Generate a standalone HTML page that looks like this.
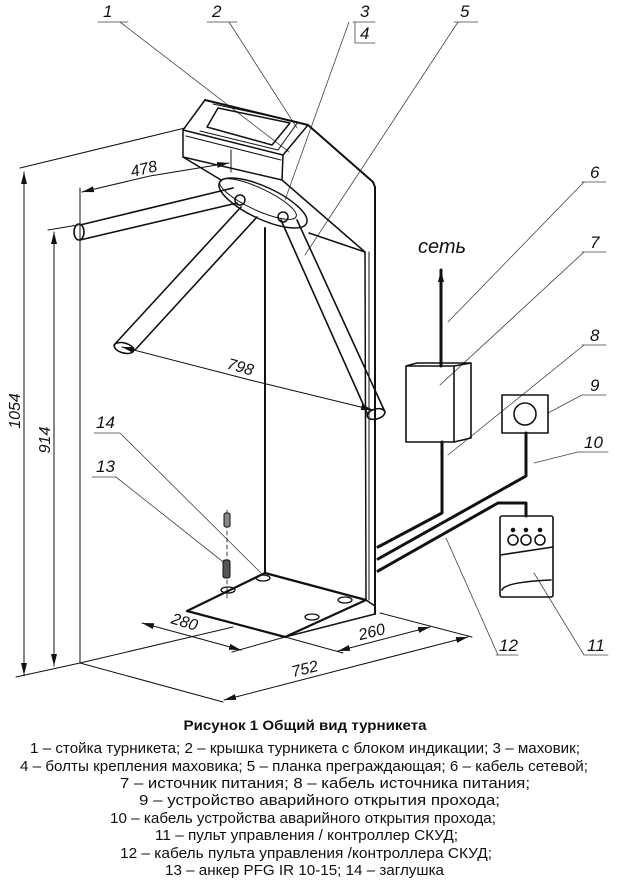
<!DOCTYPE html>
<html><head><meta charset="utf-8"><style>
html,body{margin:0;padding:0;background:#fff;}
svg{display:block;}
text{font-family:"Liberation Sans",sans-serif;fill:#111;}
.n{font-style:italic;font-size:17px;}
.d{font-style:italic;font-size:16px;}
.c{font-size:15px;}
</style></head><body>
<svg width="623" height="889" viewBox="0 0 623 889" xmlns="http://www.w3.org/2000/svg">
<defs>
<marker id="a" viewBox="0 0 12 6" refX="12" refY="3" markerWidth="12" markerHeight="6" orient="auto" markerUnits="userSpaceOnUse"><path d="M0,0 L12,3 L0,6 Z" fill="#111"/></marker>
</defs>
<g fill="none" stroke="#111" stroke-linecap="round" stroke-linejoin="round">
<g stroke-width="0.8" stroke="#444">
<path d="M98,22H128 M120,22 L289,152"/>
<path d="M207,22H237 M229,22 L297,128"/>
<path d="M353,22H375 M349,22 L285,200 M355,22V43H375"/>
<path d="M454,22H478 M458,22 L305,255"/>
<path d="M582,182H606 M584,182 L448,322"/>
<path d="M582,252H606 M584,252 L440,385"/>
<path d="M582,345H606 M584,345 L448,455"/>
<path d="M582,395H606 M582,395 L548,413"/>
<path d="M578,452H608 M578,452 L534,463"/>
<path d="M584,655H608 M584,655 L534,573"/>
<path d="M496,655H518 M498,655 L446,538"/>
<path d="M92,477H116 M116,477 L227,565"/>
<path d="M94,433H120 M120,433 L261,573"/>
</g>
<g stroke-width="1.5">
<path d="M205,100 L308,125 L373,182 L375,187 L375,614" stroke-width="2"/>
<path d="M205,100 L183,130 L283,155 L308,125"/>
<path d="M183,130 L183,157 L282,180 L283,155"/>
<path d="M186,136 L281,160" stroke-width="1"/>
<path d="M218,108 L290,123 L272,145 L207,127 Z"/>
<path d="M213,104 L298,122 L278,150 L200,131" stroke-width="1"/>
<path d="M282,180 L365,252 L366,600"/>
<path d="M183,157 L221,180"/>
<path d="M309,233 L365,252" />
</g>
<g stroke-width="1.5">
<ellipse cx="263" cy="203" rx="48" ry="16" transform="rotate(25 263 203)"/>
<ellipse cx="258" cy="199" rx="42" ry="11" transform="rotate(25 258 199)" stroke-width="1"/>
<circle cx="240" cy="200" r="5"/><circle cx="283" cy="217" r="5"/>
</g>
<path d="M265,228 V573" stroke-width="2"/>
<path d="M369,252 V600" stroke-width="1"/>
<path d="M187,611 L265,573 L366,600 L285,637 Z" stroke-width="2.2"/>
<path d="M285,637 L375,614 M366,600 L375,606" stroke-width="1.5"/>
<g stroke-width="1.3"><ellipse cx="263" cy="578" rx="7" ry="3"/><ellipse cx="228" cy="590" rx="7" ry="3"/><ellipse cx="345" cy="600" rx="7" ry="3"/><ellipse cx="312" cy="617" rx="7" ry="3"/></g>
<path d="M227,510 V600" stroke-width="0.8" stroke-dasharray="4,3"/>
<rect x="224" y="513" width="6" height="14" rx="2" fill="#888"/>
<rect x="223" y="560" width="7" height="18" rx="2" fill="#555"/>
<g stroke-width="1.6">
<path d="M80,225 L233,188 M80,240 L237,203"/>
<ellipse cx="79" cy="232" rx="5" ry="8"/>
<path d="M241,207 L114,345 M257,217 L135,350"/>
<ellipse cx="124" cy="348" rx="10" ry="5" transform="rotate(15 124 348)"/>
<path d="M281,220 L367,413 M297,220 L385,412"/>
<ellipse cx="376" cy="414" rx="9" ry="5" transform="rotate(-15 376 414)"/>
</g>
<g stroke-width="1">
<path d="M20,168 L185,128 M48,230 L78,225 M80,188 V663 M16,677 L80,663 L223,702 M80,663 L233,627"/>
<path d="M24,676 V172" marker-end="url(#a)"/><path d="M24,200 V675" marker-end="url(#a)"/>
<path d="M54,666 V232" marker-end="url(#a)"/><path d="M54,300 V666" marker-end="url(#a)"/>
<path d="M231,150 V172"/>
<path d="M150,176 L82,192" marker-end="url(#a)"/><path d="M150,176 L229,163" marker-end="url(#a)"/>
<path d="M250,380 L122,347" marker-end="url(#a)"/><path d="M250,380 L373,410" marker-end="url(#a)"/>
<path d="M190,636 L142,623" marker-end="url(#a)"/><path d="M190,636 L241,650" marker-end="url(#a)"/>
<path d="M285,637 L343,653 M380,613 L472,637 M285,637 L232,652"/>
<path d="M380,640 L338,651" marker-end="url(#a)"/><path d="M380,640 L430,627" marker-end="url(#a)"/>
<path d="M340,670 L224,700" marker-end="url(#a)"/><path d="M340,670 L468,637" marker-end="url(#a)"/>
</g>
<path d="M441,366 V270" stroke-width="3" marker-end="url(#a)"/>
<g stroke-width="1.6">
<path d="M406,366 H454 V442 H406 Z M454,366 L471,363 V438 L454,442 M406,366 L417,363 H471"/>
<rect x="502" y="395" width="46" height="38"/>
<circle cx="525" cy="414" r="11"/>
<rect x="500" y="516" width="53" height="81" rx="2"/>
<circle cx="513" cy="540" r="5"/><circle cx="526" cy="540" r="5"/><circle cx="540" cy="540" r="5"/>
<path d="M500,555 L553,547 M502,590 Q505,582 551,580"/>
</g>
<circle cx="513" cy="530" r="1.8" fill="#111"/><circle cx="526" cy="530" r="1.8" fill="#111"/><circle cx="540" cy="530" r="1.8" fill="#111"/>
<g stroke-width="3">
<path d="M442,442 V513 L378,547"/>
<path d="M526,433 V476 L378,559"/>
<path d="M378,571 L498,503 H526 V516"/>
</g>
</g>
<text class="n" x="103" y="17">1</text>
<text class="n" x="212" y="17">2</text>
<text class="n" x="360" y="17">3</text>
<text class="n" x="360" y="39">4</text>
<text class="n" x="460" y="17">5</text>
<text class="n" x="590" y="178">6</text>
<text class="n" x="590" y="248">7</text>
<text class="n" x="590" y="341">8</text>
<text class="n" x="590" y="391">9</text>
<text class="n" x="584" y="448">10</text>
<text class="n" x="587" y="651">11</text>
<text class="n" x="499" y="651">12</text>
<text class="n" x="96" y="472">13</text>
<text class="n" x="96" y="428">14</text>
<text x="418" y="253" style="font-style:italic;font-size:20px">сеть</text>
<text class="d" transform="translate(20,411) rotate(-90)" text-anchor="middle">1054</text>
<text class="d" transform="translate(50,440) rotate(-90)" text-anchor="middle">914</text>
<text class="d" transform="translate(145,174) rotate(-13)" text-anchor="middle">478</text>
<text class="d" transform="translate(239,372) rotate(16)" text-anchor="middle">798</text>
<text class="d" transform="translate(183,627) rotate(17)" text-anchor="middle">280</text>
<text class="d" transform="translate(373,637) rotate(-14)" text-anchor="middle">260</text>
<text class="d" transform="translate(306,674) rotate(-14)" text-anchor="middle">752</text>
<text x="305" y="730" text-anchor="middle" style="font-weight:bold;font-size:14px" textLength="243" lengthAdjust="spacingAndGlyphs">Рисунок 1 Общий вид турникета</text>
<text class="c" x="30" y="753" textLength="550" lengthAdjust="spacingAndGlyphs">1 – стойка турникета; 2 – крышка турникета с блоком индикации; 3 – маховик;</text>
<text class="c" x="20" y="771" textLength="568" lengthAdjust="spacingAndGlyphs">4 – болты крепления маховика; 5 – планка преграждающая; 6 – кабель сетевой;</text>
<text class="c" x="120" y="788" textLength="410" lengthAdjust="spacingAndGlyphs">7 – источник питания; 8 – кабель источника питания;</text>
<text class="c" x="139" y="805" textLength="361" lengthAdjust="spacingAndGlyphs">9 – устройство аварийного открытия прохода;</text>
<text class="c" x="110" y="823" textLength="386" lengthAdjust="spacingAndGlyphs">10 – кабель устройства аварийного открытия прохода;</text>
<text class="c" x="155" y="840" textLength="303" lengthAdjust="spacingAndGlyphs">11 – пульт управления / контроллер СКУД;</text>
<text class="c" x="120" y="858" textLength="372" lengthAdjust="spacingAndGlyphs">12 – кабель пульта управления /контроллера СКУД;</text>
<text class="c" x="165" y="875" textLength="279" lengthAdjust="spacingAndGlyphs">13 – анкер PFG IR 10-15; 14 – заглушка</text>
</svg>
</body></html>
